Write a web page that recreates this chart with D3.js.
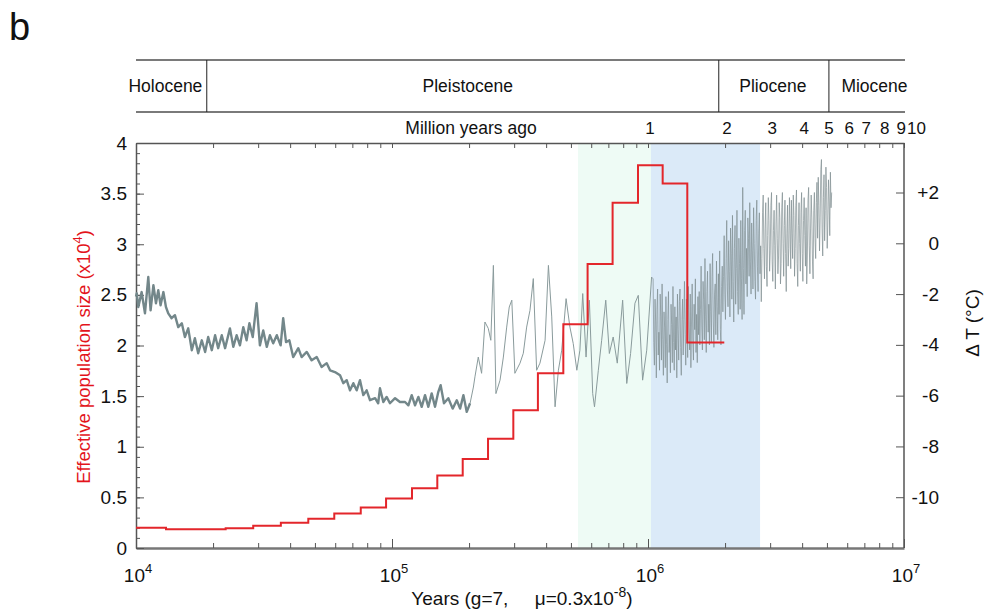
<!DOCTYPE html>
<html>
<head>
<meta charset="utf-8">
<script src="https://cdn.jsdelivr.net/npm/d3@7"></script>
<style>
body { margin: 0; background: #fff; }
text { font-family: "Liberation Sans", Arial, sans-serif; fill: #111; }
</style>
</head>
<body>
<div id="chart"></div>
<script>
// PSMC: step start times (years) and Ne (x10^4); last time is the end of the last step
const psmcYears = [10000, 13100, 22400, 28700, 36800, 47100, 59500, 75500, 94800, 119700, 150300,
    188900, 237200, 297800, 371500, 466900, 580800, 727300, 914000, 1141000, 1424000, 1986000]
const psmcNe = [0.20, 0.185, 0.195, 0.22, 0.25, 0.29, 0.34, 0.40, 0.49, 0.59, 0.715,
    0.88, 1.08, 1.36, 1.725, 2.21, 2.805, 3.41, 3.78, 3.60, 2.03]

// temperature record, recent part (log10 years, delta T)
const recentLogYears = [4.000, 4.003, 4.009, 4.022, 4.035, 4.048, 4.057, 4.068, 4.078, 4.087, 4.096,
    4.107, 4.117, 4.126, 4.139, 4.152, 4.165, 4.179, 4.191, 4.204, 4.218, 4.230, 4.243, 4.257, 4.270,
    4.282, 4.296, 4.309, 4.321, 4.335, 4.348, 4.367, 4.380, 4.393, 4.406, 4.419, 4.432, 4.443, 4.456,
    4.471, 4.484, 4.497, 4.511, 4.523, 4.536, 4.550, 4.565, 4.575, 4.586, 4.599, 4.614, 4.634, 4.647,
    4.667, 4.686, 4.706, 4.725, 4.745, 4.758, 4.777, 4.797, 4.810, 4.823, 4.836, 4.849, 4.862, 4.875,
    4.888, 4.901, 4.914, 4.934, 4.946, 4.953, 4.966, 4.979, 4.992, 5.012, 5.031, 5.051, 5.064, 5.077,
    5.090, 5.103, 5.116, 5.129, 5.142, 5.155, 5.168, 5.181, 5.190, 5.203, 5.220, 5.237, 5.253, 5.266,
    5.279, 5.292, 5.305]
const recentTemp = [-2.10, -1.97, -2.51, -1.92, -2.76, -1.33, -2.64, -1.65, -2.36, -1.85, -2.44,
    -1.92, -2.51, -2.76, -2.95, -2.83, -3.30, -3.15, -3.69, -3.35, -4.21, -3.74, -4.33, -3.82, -4.28,
    -3.69, -4.21, -3.62, -4.13, -3.62, -4.13, -3.35, -4.08, -3.62, -4.02, -3.30, -3.82, -3.15, -3.69,
    -2.36, -4.02, -3.43, -4.08, -3.62, -3.94, -3.62, -4.02, -2.95, -3.89, -3.82, -4.48, -4.13, -4.48,
    -4.28, -4.61, -4.48, -4.87, -4.72, -5.00, -5.07, -5.20, -5.51, -5.39, -5.79, -5.51, -5.79, -5.39,
    -5.98, -5.79, -6.18, -6.10, -6.30, -5.71, -6.25, -6.05, -6.30, -6.10, -6.25, -6.25, -6.38, -5.98,
    -6.38, -6.05, -6.44, -5.98, -6.44, -5.91, -6.44, -5.85, -5.59, -6.30, -6.10, -6.51, -6.18, -6.51,
    -5.98, -6.64, -6.30]

// middle part (thin line)
const midLogYears = [5.305, 5.318, 5.324, 5.337, 5.350, 5.363, 5.376, 5.386, 5.396, 5.406, 5.422,
    5.435, 5.448, 5.458, 5.468, 5.480, 5.500, 5.513, 5.526, 5.539, 5.552, 5.565, 5.578, 5.598, 5.611,
    5.624, 5.637, 5.650, 5.663, 5.680, 5.695, 5.708, 5.722, 5.734, 5.745, 5.758, 5.771, 5.784, 5.791,
    5.806, 5.819, 5.835, 5.849, 5.864, 5.880, 5.901, 5.917, 5.932, 5.949, 5.962, 5.979, 5.995, 6.014]
const midTemp = [-6.30, -5.66, -5.26, -4.48, -5.12, -3.10, -3.35, -3.82, -0.87, -5.92, -5.39,
    -4.48, -3.30, -2.51, -2.24, -5.12, -4.72, -4.33, -3.30, -2.64, -1.39, -5.00, -4.72, -3.82, -0.87,
    -2.90, -6.44, -5.00, -4.21, -2.18, -3.30, -3.95, -5.00, -4.21, -1.98, -4.48, -2.24, -5.92, -6.44,
    -5.00, -3.82, -2.24, -4.34, -3.69, -4.72, -2.24, -5.52, -4.34, -2.36, -2.05, -5.39, -4.21, -1.33]

// older part, sampled every 0.0025 in log10 years from 10^6.02
const olderLogStart = 6.02
const olderLogStep = 0.0025
const olderTemp = [
    -1.4, -3.9, -4.8, -2.2, -3.1, -5.3, -2.6, -1.8, -4.4, -3.5, -5.0, -2.0, -2.9, -4.6, -1.6, -3.8,
    -5.2, -2.7, -3.3, -4.9, -2.1, -4.0, -5.5, -3.0, -1.9, -4.3, -3.6, -5.1, -2.4, -3.2, -4.7, -1.7,
    -3.9, -5.0, -2.5, -4.2, -2.9, -5.3, -2.0, -3.4, -4.6, -2.3, -1.8, -4.1, -5.2, -3.0, -2.2,
    -4.4, -3.0, -1.5, -3.6, -4.8, -2.2, -2.9, -4.5, -1.7, -3.3, -4.2, -2.0, -4.9, -3.1, -1.6, -3.9,
    -4.6, -2.4, -3.4, -1.4, -4.3, -2.8, -4.7, -2.1, -3.6, -1.9,
    -4.0, -2.6, -0.9, -3.3, -4.2, -1.5, -2.2, -3.8, -0.6, -2.9, -4.3, -1.9, -1.1, -3.5, -2.4, -4.0,
    -0.8, -2.7, -3.9, -1.3, -0.4, -3.1, -4.1, -2.0, -1.6, -3.6, -0.7, -2.5, -3.8, -1.2, -2.8, -0.3,
    -3.4, -4.0, -1.7, -0.9,
    -2.7, -1.3, 0.3, -2.0, -3.0, -0.6, 0.9, -1.8, -2.5, 0.1, -1.1, -2.9, 0.6, -0.4, -2.2, 1.1,
    -1.5, -3.1, -0.2, 0.7, -2.4, -1.0, 1.3, -1.9, -2.8, 0.2, -0.8, -2.6, 0.9, -1.4, -3.0, 2.2,
    -1.0, -2.8, 0.5, 1.3, -1.6, -0.2, -2.1, 1.0, 0.2, -1.3, 1.6, -0.7, -2.0, 0.8, -0.3, -1.8,
    1.4, 0.0, -1.5, -2.2, 0.9, 1.7, -0.9, -1.9, 0.4, 1.2, -1.2, -0.1,
    -2.3, -0.6, 1.2, 1.9, -0.2, -1.4, 0.6, 1.6, -0.9, -1.7, 0.3, 1.8, 0.9, -1.1, -0.3, 1.5,
    2.0, -0.7, -1.5, 0.5, 1.3, -0.1, -1.8, 0.8, 1.9, 0.2, -1.2, -0.5, 1.6, 1.0, -1.6, -0.8,
    1.4, 2.0, 0.0, -1.3, 0.7, 1.7, -0.4, -1.9, 0.4, 1.5, -0.9, -0.2, 1.8, 0.6,
    -1.0, 1.7, 0.4, -0.6, 1.9, 1.1, -1.3, -0.2, 1.5, 2.1, -0.8, -1.7, 0.7, 1.6, 0.0, -1.1,
    1.2, 2.0, -0.4, -1.5, 0.9, 1.8, 0.3, -0.9, 1.4, -1.6, -0.5, 1.7, 2.2, -0.1, -1.2, 0.6,
    1.9, 1.0, -0.7, -1.4, 1.3, 2.0, 0.2, -0.6, 1.6, 2.4,
    0.2, 2.6, 1.5, -0.3, 1.0, 2.9, 3.3, 0.6, -0.5, 1.8, 2.7, 0.1, 1.3, 3.0, 2.2, -0.2,
    0.8, 2.5, 1.7, 0.3, 2.8, 1.4, 2.0]

const epochNames = ["Holocene", "Pleistocene", "Pliocene", "Miocene"]
const epochBreaks = [10000, 18900, 1890000, 5090000, 10000000]
const shadeRanges = [[533000, 1027000], [1027000, 2740000]]
const shadeColors = ["#eefbf5", "#dbeaf8"]
const myaLabels = [1, 2, 3, 4, 5, 6, 7, 8, 9, 10]
const neTicks = [0, 0.5, 1, 1.5, 2, 2.5, 3, 3.5, 4]
const tempTicks = [-10, -8, -6, -4, -2, 0, 2]
const yearExponents = [4, 5, 6, 7]

const width = 985
const height = 613

const svg = d3.select("#chart")
    .append("svg")
    .attr("width", width)
    .attr("height", height)

const x = d3.scaleLog().domain([1e4, 1e7]).range([136, 904])
const yNe = d3.scaleLinear().domain([0, 4]).range([548, 143])
const yT = d3.scaleLinear().domain([-12, 3.95]).range([548, 143])

svg.append("text").attr("x", 9).attr("y", 40).style("font-size", "38px").text("b")

// shaded periods
svg.selectAll("rect.shade")
    .data(shadeRanges)
    .enter()
    .append("rect")
    .attr("x", d => x(d[0]))
    .attr("width", d => x(d[1]) - x(d[0]))
    .attr("y", yNe(4))
    .attr("height", yNe(0) - yNe(4))
    .attr("fill", (d, i) => shadeColors[i])

// epoch strip
const strip = svg.append("g")
strip.selectAll("line.h")
    .data([60, 112])
    .enter()
    .append("line")
    .attr("x1", x(1e4)).attr("x2", x(1e7) + 1)
    .attr("y1", d => d).attr("y2", d => d)
    .attr("stroke", "#7a7a7a").attr("stroke-width", 2)
strip.selectAll("line.v")
    .data(epochBreaks.slice(1, -1))
    .enter()
    .append("line")
    .attr("x1", d => x(d)).attr("x2", d => x(d))
    .attr("y1", 60).attr("y2", 112)
    .attr("stroke", "#222").attr("stroke-width", 1)
strip.selectAll("text")
    .data(epochNames)
    .enter()
    .append("text")
    .attr("x", (d, i) => (x(epochBreaks[i]) + x(epochBreaks[i + 1])) / 2 + [-6, 5, -1, 8][i])
    .attr("y", 92)
    .attr("text-anchor", "middle")
    .style("font-size", "17.5px")
    .text(d => d)

svg.append("text").attr("x", 471).attr("y", 134).attr("text-anchor", "middle")
    .style("font-size", "17.5px").text("Million years ago")
svg.selectAll("text.mya")
    .data(myaLabels)
    .enter()
    .append("text")
    .attr("x", d => x(d * 1e6) + 2 + (d >= 8 ? (d - 7) * 3.5 : 0))
    .attr("y", 134)
    .attr("text-anchor", "middle")
    .style("font-size", "17px")
    .text(d => d)

// axes
function styleAxis(g) {
    g.selectAll(".domain").attr("stroke", "#555").attr("stroke-width", 1.5)
    g.selectAll(".tick line").attr("stroke", "#555")
    g.selectAll(".tick text").style("font-size", "19px").attr("fill", "#111")
}

svg.append("g")
    .attr("transform", "translate(0,548)")
    .call(d3.axisBottom(x).tickValues(x.ticks()).tickSizeInner(-5).tickSizeOuter(0).tickFormat(""))
    .call(styleAxis)
    .call(g => g.select(".domain").attr("stroke", "#777").attr("stroke-width", 2.5))
svg.append("g")
    .attr("transform", "translate(0,548)")
    .call(d3.axisBottom(x).tickValues(yearExponents.map(e => Math.pow(10, e))).tickSizeInner(-9).tickSizeOuter(0).tickFormat(""))
    .call(styleAxis)
    .call(g => g.select(".domain").remove())
svg.append("g")
    .attr("transform", "translate(0,143)")
    .call(d3.axisTop(x).tickValues(x.ticks()).tickSizeInner(-5).tickSizeOuter(0).tickFormat(""))
    .call(styleAxis)

const yearLabels = svg.selectAll("text.year")
    .data(yearExponents)
    .enter()
    .append("text")
    .attr("x", d => x(Math.pow(10, d)) + 2)
    .attr("y", 582)
    .attr("text-anchor", "middle")
    .style("font-size", "19px")
yearLabels.append("tspan").text("10")
yearLabels.append("tspan").attr("dy", -9).style("font-size", "13px").text(d => d)

svg.append("g")
    .attr("transform", "translate(136,0)")
    .call(d3.axisLeft(yNe).tickValues(d3.range(0, 41).map(d => d / 10)).tickSizeInner(-4).tickSizeOuter(0).tickFormat(""))
    .call(styleAxis)
svg.append("g")
    .attr("transform", "translate(136,0)")
    .call(d3.axisLeft(yNe).tickValues(neTicks).tickSizeInner(-8).tickSizeOuter(0).tickPadding(9).tickFormat(d3.format("")))
    .call(styleAxis)
    .call(g => g.select(".domain").remove())

svg.append("g")
    .attr("transform", "translate(904,0)")
    .call(d3.axisRight(yT).tickValues(tempTicks).tickSizeInner(-8).tickSizeOuter(0)
        .tickFormat(d => d > 0 ? "+" + d : d))
    .call(styleAxis)
    .call(g => g.selectAll(".tick text").attr("text-anchor", "end").attr("x", 35))
    .call(g => g.select(".domain").attr("d", "M0," + yT.range()[0] + "V" + yT.range()[1]))

// temperature curve
const tempLine = d3.line()
    .x(d => x(Math.pow(10, d[0])))
    .y(d => yT(d[1]))

const recent = recentLogYears.map((d, i) => [d, recentTemp[i]])
const mid = midLogYears.map((d, i) => [d, midTemp[i]])
const older = [mid[mid.length - 1]].concat(olderTemp.map((d, i) => [olderLogStart + i * olderLogStep, d]))

svg.append("path")
    .datum(mid)
    .attr("d", tempLine)
    .attr("fill", "none")
    .attr("stroke", "#8a9b9c")
    .attr("stroke-width", 1)
    .attr("stroke-linejoin", "round")
svg.append("path")
    .datum(older)
    .attr("d", tempLine)
    .attr("fill", "none")
    .attr("stroke", "#7f8e91")
    .attr("stroke-width", 0.7)
    .attr("stroke-linejoin", "round")
svg.append("path")
    .datum(recent)
    .attr("d", tempLine)
    .attr("fill", "none")
    .attr("stroke", "#73878a")
    .attr("stroke-width", 2.4)
    .attr("stroke-linejoin", "round")

// PSMC step line
const psmc = psmcYears.map((d, i) => [d, psmcNe[Math.min(i, psmcNe.length - 1)]])
svg.append("path")
    .datum(psmc)
    .attr("d", d3.line().curve(d3.curveStepAfter).x(d => x(d[0])).y(d => yNe(d[1])))
    .attr("fill", "none")
    .attr("stroke", "#e3262b")
    .attr("stroke-width", 2)

// axis titles
const xTitle = svg.append("text")
    .attr("x", 522)
    .attr("y", 605)
    .attr("text-anchor", "middle")
    .style("font-size", "19px")
    .style("white-space", "pre")
xTitle.append("tspan").text("Years (g=7,     \u03bc=0.3x10")
xTitle.append("tspan").attr("dy", -8).style("font-size", "14px").text("-8")
xTitle.append("tspan").attr("dy", 8).text(")")

const yTitle = svg.append("text")
    .attr("transform", "translate(90,357) rotate(-90)")
    .attr("text-anchor", "middle")
    .style("font-size", "18.5px")
    .style("fill", "#e3131b")
yTitle.append("tspan").text("Effective population size (x10")
yTitle.append("tspan").attr("dy", -8).style("font-size", "13px").text("4")
yTitle.append("tspan").attr("dy", 8).text(")")

svg.append("text")
    .attr("transform", "translate(979,323) rotate(-90)")
    .attr("text-anchor", "middle")
    .style("font-size", "19px")
    .text("\u0394 T (\u00b0C)")
</script>
</body>
</html>
